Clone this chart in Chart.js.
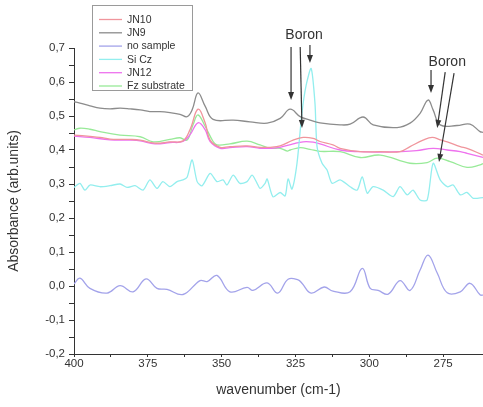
<!DOCTYPE html>
<html>
<head>
<meta charset="utf-8">
<script src="https://cdn.jsdelivr.net/npm/chart.js@4.4.0/dist/chart.umd.min.js"></script>
<style>
  body { margin: 0; background: #fff; }
  canvas { display: block; }
</style>
</head>
<body>
<canvas id="spectra" width="483" height="407"></canvas>
<script>
// Spectra: wavenumber (cm-1) / absorbance pairs
const seriesNames = ['JN10', 'JN9', 'no sample', 'Si Cz', 'JN12', 'Fz substrate'];

const jn10Wn = [400, 394.6, 391.2, 387.8, 384.4, 381, 377.6, 372.6, 367.5, 363.1, 360.7, 358, 355.6, 353.9, 350.5, 347.2, 341.4, 337, 333.6, 330.2, 325.8, 322.4, 319, 316.7, 312.3, 309.9, 303.1, 296.3, 289.6, 286.2, 281.8, 278.7, 276, 273.6, 269.2, 266.9, 261.5];
const jn10Abs = [0.444, 0.440, 0.437, 0.432, 0.431, 0.431, 0.429, 0.420, 0.424, 0.427, 0.460, 0.520, 0.480, 0.429, 0.408, 0.410, 0.412, 0.408, 0.408, 0.412, 0.429, 0.437, 0.434, 0.425, 0.415, 0.405, 0.395, 0.395, 0.395, 0.410, 0.429, 0.437, 0.430, 0.424, 0.410, 0.405, 0.385];

const jn9Wn = [400, 398, 394.6, 391.2, 387.8, 384.4, 381, 377.6, 374.3, 370.9, 367.5, 364.1, 361.7, 360, 358, 355.6, 352.9, 346.1, 340.4, 334.6, 330.2, 326.8, 323.4, 320.1, 316.7, 309.9, 306.5, 302.1, 298.7, 290.6, 286.2, 282.8, 280.1, 278.4, 276, 270.3, 265.9, 262.5, 261.5];
const jn9Abs = [0.542, 0.538, 0.530, 0.523, 0.521, 0.523, 0.521, 0.518, 0.513, 0.513, 0.510, 0.505, 0.498, 0.518, 0.568, 0.529, 0.490, 0.488, 0.483, 0.479, 0.493, 0.520, 0.498, 0.488, 0.480, 0.474, 0.476, 0.497, 0.474, 0.466, 0.479, 0.508, 0.547, 0.518, 0.474, 0.472, 0.476, 0.454, 0.452];

const noSampleWn = [400, 398, 394.6, 388.8, 384.4, 380, 375.6, 371.9, 368.5, 363.1, 357.3, 354.9, 351.6, 347.2, 341.4, 339.4, 334.6, 331, 327.5, 324.1, 322.8, 319.7, 315.3, 312.3, 306.5, 302.4, 299.7, 297, 293.6, 289.6, 286.2, 282.8, 280.1, 277, 273.6, 269.2, 265.9, 262.5, 261.5];
const noSampleAbs = [0.006, 0.023, -0.007, -0.021, 0.001, -0.017, 0.021, -0.007, -0.010, -0.025, 0.016, 0.013, 0.031, -0.017, -0.004, -0.013, 0.009, -0.021, 0.020, 0.018, 0.008, -0.021, -0.003, -0.015, -0.017, 0.052, -0.007, -0.013, -0.024, 0.016, -0.013, 0.047, 0.091, 0.038, -0.020, -0.017, 0.008, -0.026, -0.027];

const siCzWn = [400, 398, 396.3, 394.6, 391.2, 387.8, 384.4, 382, 379.3, 376.6, 374.3, 371.9, 369.9, 367.5, 365.1, 363.1, 361.7, 360, 358.3, 356.6, 353.9, 351.6, 349.5, 348.2, 346.1, 343.8, 341.4, 339.7, 338, 337, 335.3, 334.6, 332.6, 330.2, 328.5, 327.5, 326.2, 324.5, 322.8, 321.4, 319.7, 318.4, 317.7, 316, 314.3, 312.6, 309.9, 306.5, 304.1, 302.4, 300.7, 298.7, 295.3, 291.9, 289.6, 287.2, 285.2, 282.8, 280.4, 278.4, 276, 273.6, 271.6, 269.2, 266.9, 264.8, 261.5];
const siCzAbs = [0.290, 0.302, 0.282, 0.297, 0.292, 0.295, 0.300, 0.290, 0.295, 0.282, 0.312, 0.287, 0.307, 0.292, 0.307, 0.312, 0.320, 0.371, 0.307, 0.295, 0.331, 0.307, 0.312, 0.297, 0.326, 0.302, 0.307, 0.326, 0.302, 0.287, 0.302, 0.315, 0.262, 0.275, 0.265, 0.315, 0.285, 0.360, 0.510, 0.590, 0.640, 0.538, 0.410, 0.361, 0.341, 0.302, 0.312, 0.292, 0.282, 0.321, 0.273, 0.292, 0.282, 0.263, 0.292, 0.268, 0.282, 0.253, 0.253, 0.361, 0.312, 0.292, 0.297, 0.268, 0.275, 0.258, 0.260];

const jn12Wn = [400, 394.6, 387.8, 381, 377.6, 372.6, 367.5, 363.1, 360.7, 358, 355.6, 353.9, 350.5, 347.2, 341.4, 337, 333.6, 330.2, 325.8, 322.4, 319, 316.7, 309.9, 303.1, 296.3, 289.6, 284, 278.4, 273.6, 269.2, 266.9, 261.5];
const jn12Abs = [0.441, 0.437, 0.430, 0.429, 0.427, 0.418, 0.422, 0.425, 0.445, 0.480, 0.460, 0.425, 0.405, 0.407, 0.410, 0.405, 0.405, 0.408, 0.418, 0.424, 0.423, 0.418, 0.400, 0.395, 0.394, 0.395, 0.398, 0.405, 0.400, 0.395, 0.390, 0.378];

const fzWn = [400, 398, 394.6, 391.2, 384.4, 377.6, 373.2, 367.5, 364.1, 361.7, 359.7, 358, 355.6, 352.9, 351.6, 347.2, 341.4, 337, 333.6, 330.2, 327.8, 326.8, 323.4, 320.1, 316.7, 309.9, 303.1, 296.3, 286.2, 280.4, 277, 272.6, 266.9, 262.5, 261.5];
const fzAbs = [0.459, 0.464, 0.461, 0.454, 0.444, 0.439, 0.424, 0.431, 0.436, 0.429, 0.474, 0.503, 0.470, 0.425, 0.415, 0.418, 0.426, 0.415, 0.405, 0.405, 0.397, 0.400, 0.407, 0.402, 0.396, 0.395, 0.378, 0.385, 0.361, 0.363, 0.376, 0.366, 0.349, 0.356, 0.360];

const xTicks = [400, 375, 350, 325, 300, 275];
const yTicks = [0.7, 0.6, 0.5, 0.4, 0.3, 0.2, 0.1, 0.0, -0.1, -0.2];

// "Boron" notes and their arrows, in wavenumber / absorbance units
const boronLabels = [[322.1, 0.738], [273.6, 0.659]];
const boronArrows = [
    [326.5, 0.703, 326.5, 0.547],
    [323.4, 0.703, 322.8, 0.465],
    [320.1, 0.709, 320.1, 0.656],
    [279.1, 0.635, 279.1, 0.568],
    [274.3, 0.629, 277.0, 0.465],
    [271.3, 0.626, 276.4, 0.365]
];

const colors = ['#f0959c', '#8c8c8c', '#a3a3ea', '#93eeee', '#ee72ee', '#98ea98'];

function pairs(wn, abs) {
    return wn.map((w, i) => ({ x: w, y: abs[i] }));
}

const allSeries = [
    pairs(jn10Wn, jn10Abs),
    pairs(jn9Wn, jn9Abs),
    pairs(noSampleWn, noSampleAbs),
    pairs(siCzWn, siCzAbs),
    pairs(jn12Wn, jn12Abs),
    pairs(fzWn, fzAbs)
];

const FONT = '"Liberation Sans", Arial, sans-serif';

function onStep(v, step) {
    return Math.abs(v / step - Math.round(v / step)) < 1e-6;
}

// comma decimals, and no "-0,0"
function yLabel(v) {
    const r = Math.round(v * 10) / 10;
    return (r === 0 ? 0 : r).toFixed(1).replace('.', ',');
}

// Legend box and Boron notes drawn on top of the chart
const notesPlugin = {
    id: 'notes',
    afterDraw(chart) {
        const ctx = chart.ctx;
        const xs = chart.scales.x, ys = chart.scales.y;
        ctx.save();

        // legend
        ctx.strokeStyle = '#9a9a9a';
        ctx.lineWidth = 1;
        ctx.fillStyle = '#fff';
        ctx.fillRect(92.5, 5.5, 100, 85);
        ctx.strokeRect(92.5, 5.5, 100, 85);
        ctx.font = '10.5px ' + FONT;
        ctx.textBaseline = 'middle';
        chart.data.datasets.forEach((ds, i) => {
            const y = 19.5 + i * 13.3;
            ctx.strokeStyle = ds.borderColor;
            ctx.lineWidth = 1.3;
            ctx.beginPath();
            ctx.moveTo(99, y);
            ctx.lineTo(122, y);
            ctx.stroke();
            ctx.fillStyle = '#333';
            ctx.fillText(ds.label, 127, y + 0.5);
        });

        // Boron text
        ctx.font = '14px ' + FONT;
        ctx.fillStyle = '#333';
        ctx.textAlign = 'center';
        boronLabels.forEach(([w, a]) => {
            ctx.fillText('Boron', xs.getPixelForValue(w), ys.getPixelForValue(a));
        });

        // arrows
        ctx.strokeStyle = '#333';
        ctx.fillStyle = '#333';
        ctx.lineWidth = 1.2;
        boronArrows.forEach(([w1, a1, w2, a2]) => {
            const x1 = xs.getPixelForValue(w1), y1 = ys.getPixelForValue(a1);
            const x2 = xs.getPixelForValue(w2), y2 = ys.getPixelForValue(a2);
            const ang = Math.atan2(y2 - y1, x2 - x1);
            const hl = 8, hw = 3;
            const bx = x2 - hl * Math.cos(ang), by = y2 - hl * Math.sin(ang);
            ctx.beginPath();
            ctx.moveTo(x1, y1);
            ctx.lineTo(bx, by);
            ctx.stroke();
            ctx.beginPath();
            ctx.moveTo(x2, y2);
            ctx.lineTo(bx + hw * Math.sin(ang), by - hw * Math.cos(ang));
            ctx.lineTo(bx - hw * Math.sin(ang), by + hw * Math.cos(ang));
            ctx.closePath();
            ctx.fill();
        });
        ctx.restore();
    }
};

const ctx = document.getElementById('spectra').getContext('2d');
const chart = new Chart(ctx, {
    type: 'line',
    data: {
        datasets: allSeries.map((pts, i) => ({
            label: seriesNames[i],
            data: pts,
            borderColor: colors[i],
            backgroundColor: colors[i],
            borderWidth: 1.3,
            pointRadius: 0,
            tension: i === 3 ? 0.25 : 0.4,
            fill: false
        }))
    },
    options: {
        responsive: false,
        animation: false,
        layout: { padding: { top: 48, right: 0, left: 0, bottom: 0 } },
        plugins: {
            legend: { display: false },
            tooltip: { enabled: false }
        },
        scales: {
            x: {
                type: 'linear',
                reverse: true,
                min: 261.5,
                max: 400,
                afterFit: s => { s.height = 53; },
                afterBuildTicks: s => { s.ticks = s.ticks.filter(t => onStep(t.value, 12.5)); },
                ticks: {
                    stepSize: 12.5,
                    autoSkip: false,
                    maxRotation: 0,
                    padding: 0,
                    color: '#333',
                    font: { family: FONT, size: 11.5 },
                    callback: v => xTicks.some(t => Math.abs(t - v) < 1e-6) ? String(v) : ''
                },
                grid: { drawOnChartArea: false, drawTicks: true, tickLength: 3, color: '#333' },
                border: { color: '#333', width: 1 },
                title: {
                    display: true,
                    text: 'wavenumber (cm-1)',
                    color: '#333',
                    font: { family: FONT, size: 14 },
                    padding: { top: 0, bottom: 8 }
                }
            },
            y: {
                min: -0.2,
                max: 0.7,
                afterFit: s => { s.width = 74; },
                afterBuildTicks: s => { s.ticks = s.ticks.filter(t => onStep(t.value, 0.05)); },
                ticks: {
                    stepSize: 0.05,
                    autoSkip: false,
                    padding: 4,
                    color: '#333',
                    font: { family: FONT, size: 11.5 },
                    callback: v => yTicks.some(t => Math.abs(t - v) < 1e-6) ? yLabel(v) : ''
                },
                grid: { drawOnChartArea: false, drawTicks: true, tickLength: 5, color: '#333' },
                border: { color: '#333', width: 1 },
                title: {
                    display: true,
                    text: 'Absorbance (arb.units)',
                    color: '#333',
                    font: { family: FONT, size: 14 },
                    padding: { top: 6, bottom: 0 }
                }
            }
        }
    },
    plugins: [notesPlugin]
});
</script>
</body>
</html>
